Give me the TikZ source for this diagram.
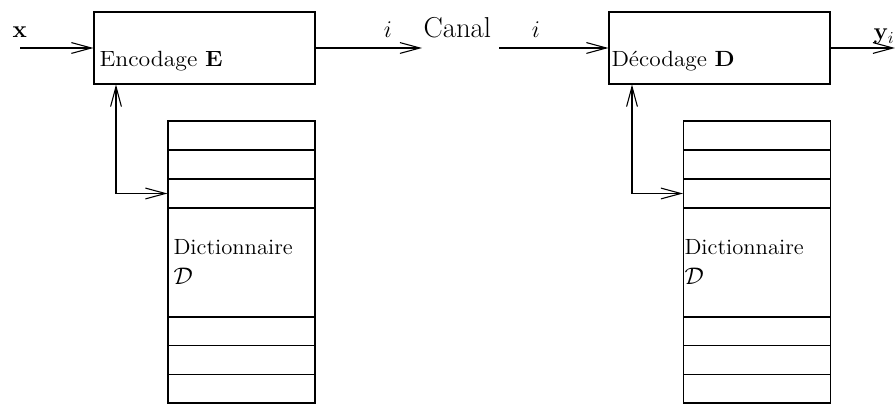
\documentclass[tikz,border=0pt]{standalone}
\usetikzlibrary{arrows.meta}
\newcommand{\labfont}{\fontsize{13.2}{15}\selectfont}
\newcommand{\symfont}{\fontsize{14.4}{16}\selectfont}
\begin{document}
\begin{tikzpicture}[x=0.6pt,y=-0.6pt,
  line width=0.65pt,
  tip/.style={-{Straight Barb[length=12pt,width=6.5pt]}},
  bitip/.style={{Straight Barb[length=12pt,width=6.5pt]}-{Straight Barb[length=12pt,width=6.5pt]}},
  blockbox/.style={draw, minimum width=132.6pt, minimum height=43.2pt, inner sep=0pt},
  cell/.style={draw, minimum width=88.2pt, minimum height=17.4pt, inner sep=0pt},
  lowcell/.style={draw, minimum width=88.2pt, minimum height=17.2pt, inner sep=0pt},
  bigcell/.style={draw, minimum width=88.2pt, minimum height=65.4pt, inner sep=0pt},
  lbl/.style={anchor=base west, inner sep=0pt, font=\labfont},
  sym/.style={anchor=base west, inner sep=0pt, font=\symfont}]
\useasboundingbox (0,0) rectangle (895,405);

% blocks
\node[blockbox] (enc) at (204.5,48) {};
\node[blockbox] (dec) at (719.5,48) {};
\node[lbl] (enclbl) at (99,67) {\scalebox{1.08}[1.0]{Encodage \textbf{E}}};
\node[lbl] (declbl) at (611,67) {\scalebox{1.06}[1.0]{D\'ecodage \textbf{D}}};

% dictionaries
\foreach \s/\cx in {L/241.5, R/757} {
  \node[cell] (r\s1) at (\cx,135.5) {};
  \node[cell] (r\s2) at (\cx,164.5) {};
  \node[cell] (r\s3) at (\cx,193.5) {};
  \node[bigcell] (r\s4) at (\cx,262.5) {};
  \node[lowcell] (r\s5) at (\cx,331.3) {};
  \node[lowcell] (r\s6) at (\cx,360) {};
  \node[lowcell] (r\s7) at (\cx,388.7) {};
}
\node[lbl] (dictL) at (173,255) {\scalebox{1.03}[1.0]{Dictionnaire}};
\node[sym] (calL) at (173,285) {$\mathcal{D}$};
\node[lbl] (dictR) at (684,255) {\scalebox{1.03}[1.0]{Dictionnaire}};
\node[sym] (calR) at (684,285) {$\mathcal{D}$};

% channel
\node[lbl, font=\LARGE] (canal) at (423,38) {Canal};
\node[sym, anchor=base] (i1) at (388,38) {$i$};
\node[sym, anchor=base] (i2) at (536,38) {$i$};
\node[sym] (xlbl) at (12,38) {$\mathbf{x}$};
\node[sym] (ylbl) at (873,40) {$\mathbf{y}_i$};

\coordinate (xin) at (20,48);
\coordinate (cin) at (422,48);
\coordinate (cout) at (499,48);
\coordinate (yout) at (895,48);
\coordinate (fL) at (116,0);
\coordinate (fR) at (632,0);

\draw[tip] (xin) -- (enc.west);
\draw[tip] (enc.east) -- (cin);
\draw[tip] (cout) -- (dec.west);
\draw[tip] (dec.east) -- (yout);
\draw[bitip] (enc.south -| fL) |- (rL3.west);
\draw[bitip] (dec.south -| fR) |- (rR3.west);
\end{tikzpicture}
\end{document}
